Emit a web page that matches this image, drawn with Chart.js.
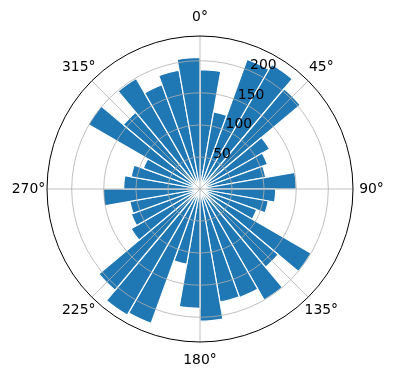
<!DOCTYPE html>
<html>
<head>
<meta charset="utf-8">
<script src="https://cdn.jsdelivr.net/npm/chart.js@4"></script>
<style>
  html, body { margin: 0; padding: 0; background: #fff; }
  #wrap { width: 396px; height: 380px; }
</style>
</head>
<body>
<div id="wrap"><canvas id="polarChart"></canvas></div>
<script>
// direction of each 10° sector (clockwise from north)
const directions = ["0°", "10°", "20°", "30°", "40°", "50°", "60°", "70°", "80°",
    "90°", "100°", "110°", "120°", "130°", "140°", "150°", "160°", "170°",
    "180°", "190°", "200°", "210°", "220°", "230°", "240°", "250°", "260°",
    "270°", "280°", "290°", "300°", "310°", "320°", "330°", "340°", "350°"];

// bar length for each sector
const radii = [186, 122, 215, 224, 204, 125, 112, 104, 150,
    118, 108, 94, 200, 159, 200, 180, 179, 206,
    186, 119, 223, 227, 206, 124, 114, 111, 151,
    119, 109, 94, 201, 156, 199, 173, 188, 205];

const radialTicks = [50, 100, 150, 200];
const angleTicks = [0, 45, 90, 135, 180, 225, 270, 315];
const angleTickLabels = ["0°", "45°", "90°", "135°", "180°", "225°", "270°", "315°"];

const rMax = 238.5;

// grid, spine and labels drawn over the bars, as matplotlib does
const polarDecor = {
    id: "polarDecor",
    afterDatasetsDraw(chart) {
        const scale = chart.scales.r;
        const ctx = chart.ctx;
        const cx = scale.xCenter;
        const cy = scale.yCenter;
        const R = scale.drawingArea;

        ctx.save();
        ctx.strokeStyle = "#b0b0b0";
        ctx.lineWidth = 0.8;
        radialTicks.forEach(v => {
            const d = scale.getDistanceFromCenterForValue(v);
            ctx.beginPath();
            ctx.arc(cx, cy, d, 0, 2 * Math.PI);
            ctx.stroke();
        });
        angleTicks.forEach(a => {
            const t = (a - 90) * Math.PI / 180;
            ctx.beginPath();
            ctx.moveTo(cx, cy);
            ctx.lineTo(cx + R * Math.cos(t), cy + R * Math.sin(t));
            ctx.stroke();
        });

        ctx.strokeStyle = "#000";
        ctx.lineWidth = 1;
        ctx.beginPath();
        ctx.arc(cx, cy, R, 0, 2 * Math.PI);
        ctx.stroke();

        ctx.fillStyle = "#000";
        ctx.font = "13.9px 'DejaVu Sans'";
        ctx.textAlign = "center";
        ctx.textBaseline = "middle";
        angleTicks.forEach((a, i) => {
            const t = (a - 90) * Math.PI / 180;
            const d = R + 18.5;
            ctx.fillText(angleTickLabels[i], cx + d * Math.cos(t), cy + d * Math.sin(t));
        });

        ctx.textAlign = "left";
        ctx.textBaseline = "alphabetic";
        const t = (22.5 - 90) * Math.PI / 180;
        radialTicks.forEach(v => {
            const d = scale.getDistanceFromCenterForValue(v);
            ctx.fillText(String(v), cx + d * Math.cos(t) + 1, cy + d * Math.sin(t) - 1.5);
        });
        ctx.restore();
    }
};

const ctx = document.getElementById("polarChart").getContext("2d");

new Chart(ctx, {
    type: "polarArea",
    data: {
        labels: directions,
        datasets: [{
            data: radii,
            backgroundColor: "#1f77b4",
            borderColor: "#ffffff",
            borderWidth: 1.2
        }]
    },
    options: {
        responsive: true,
        maintainAspectRatio: false,
        animation: false,
        startAngle: 0,
        layout: {
            padding: { left: 47, right: 42, top: 36, bottom: 37 }
        },
        plugins: {
            legend: { display: false },
            tooltip: { enabled: false }
        },
        scales: {
            r: {
                min: 0,
                max: rMax,
                ticks: { display: false },
                grid: { display: false },
                angleLines: { display: false },
                pointLabels: { display: false }
            }
        }
    },
    plugins: [polarDecor]
});
</script>
</body>
</html>
